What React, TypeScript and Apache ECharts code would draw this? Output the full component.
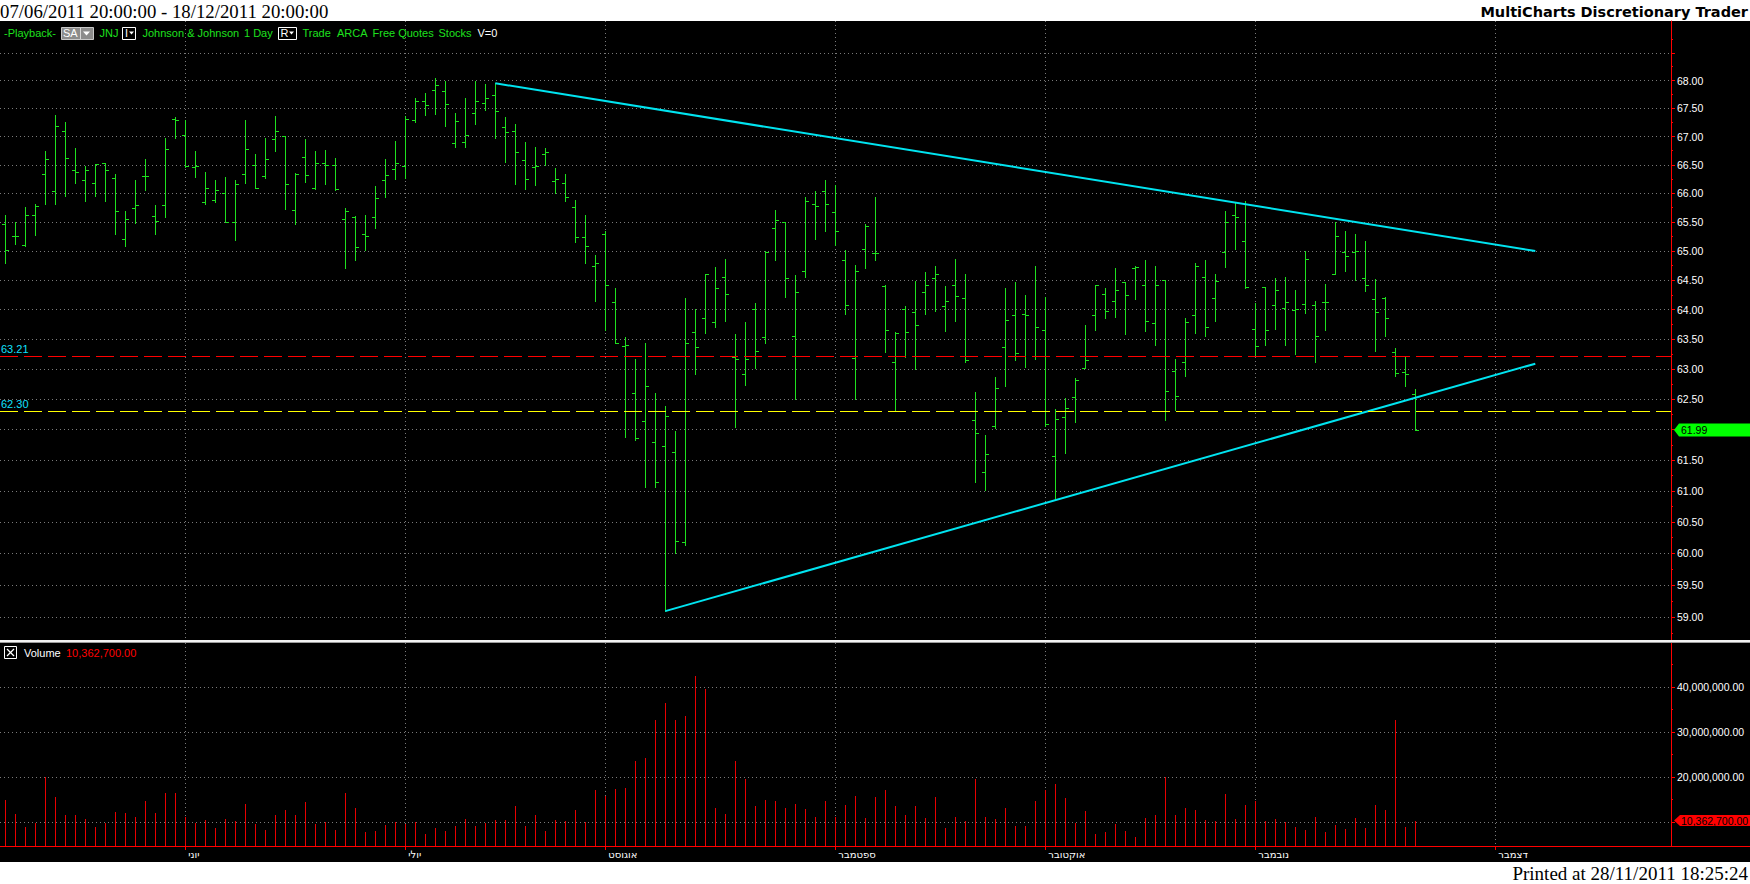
import React, { useEffect, useRef } from 'react';
import * as echarts from 'echarts';

// ---- Daily OHLC of JNJ (USD), trading days 2011-05-05 .. 2011-11-23 ----
const opens = [65.47,65.26,65.11,65.62,66.33,66.04,67.10,66.41,66.24,66.18,
66.54,66.26,65.21,65.74,66.30,65.60,65.79,67.31,67.02,66.46,
65.84,65.88,66.01,65.50,66.34,66.50,66.31,66.96,67.01,65.71,
66.63,66.09,66.54,66.50,65.55,65.59,65.29,65.59,66.24,66.43,
66.48,67.30,67.64,67.83,67.81,66.89,66.90,67.41,67.59,67.74,
67.17,67.09,66.59,66.47,66.69,66.22,66.18,65.76,65.24,64.74,
65.30,64.12,63.38,62.61,62.14,61.80,61.73,61.63,60.18,63.62,
63.86,63.79,64.56,63.20,62.92,64.01,63.54,65.40,65.50,63.56,
64.65,65.82,66.04,65.67,64.84,63.18,65.04,64.96,64.40,63.12,
64.01,63.96,64.29,64.54,64.06,64.42,64.20,62.16,61.31,62.05,
63.37,63.90,63.92,63.22,63.65,61.56,62.21,62.53,63.02,63.90,
64.26,64.14,64.47,64.71,64.41,63.78,64.51,62.96,63.11,63.90,
64.56,64.20,64.99,65.63,65.18,63.68,64.39,64.07,64.03,63.99,
64.09,64.08,64.13,64.61,64.98,64.98,64.53,64.18,64.20,63.29,
62.95,62.59];
const highs = [65.62,65.50,65.76,65.81,66.74,67.39,67.26,66.80,66.48,66.52,
66.54,66.34,65.69,66.24,66.61,65.80,66.97,67.34,67.30,66.75,
66.38,66.24,66.29,66.24,67.30,66.69,66.97,67.37,67.01,66.35,
66.96,66.74,66.76,66.62,65.74,65.61,65.62,66.13,66.61,66.92,
67.37,67.68,67.77,68.05,67.99,67.42,67.69,67.99,67.94,67.95,
67.34,67.22,66.90,66.81,66.80,66.45,66.33,65.88,65.62,64.93,
65.34,64.36,63.54,63.17,63.43,62.60,62.39,61.98,64.20,64.01,
64.61,64.72,64.86,63.59,63.79,64.11,65.00,65.71,65.50,64.59,
65.94,66.04,66.24,66.15,65.02,64.76,65.47,65.94,64.41,63.62,
64.06,64.48,64.64,64.74,64.40,64.86,64.60,62.62,61.91,62.87,
64.36,64.47,64.25,64.74,64.21,62.33,62.52,62.85,63.74,64.42,
64.36,64.71,64.47,64.74,64.84,64.74,64.51,63.16,63.86,64.79,
64.84,64.60,65.69,65.84,65.86,64.11,64.39,64.53,64.55,64.34,
65.00,64.14,64.43,65.50,65.35,65.30,65.17,64.52,64.21,63.35,
63.20,62.67];
const lows = [64.80,65.12,65.08,65.28,65.81,65.81,65.95,66.18,65.86,65.95,
65.86,65.29,65.08,65.49,66.06,65.29,65.59,66.98,66.47,66.28,
65.81,65.84,65.50,65.19,66.18,66.09,66.27,66.75,65.72,65.47,
66.20,66.08,66.16,66.06,64.71,64.84,65.01,65.39,65.93,66.25,
66.26,67.25,67.38,67.40,67.18,66.82,66.82,67.22,67.47,66.98,
66.55,66.16,66.07,66.14,66.49,66.01,65.87,65.15,64.79,64.14,
63.66,63.43,61.87,61.82,61.06,61.06,59.09,60.01,60.14,62.91,
63.61,63.70,63.80,62.04,62.74,63.01,63.43,64.84,64.21,62.51,
64.56,65.20,65.34,65.11,63.92,62.51,64.70,64.84,63.29,62.32,
63.20,63.00,63.92,63.97,63.63,63.80,63.11,61.15,61.01,62.02,
62.71,63.15,63.03,63.17,62.05,60.86,61.61,62.12,63.02,63.65,
63.85,63.87,63.58,64.18,63.63,63.41,62.16,62.32,62.89,63.60,
63.55,63.80,64.72,65.03,64.37,63.21,63.41,63.68,63.41,63.25,
63.95,63.11,63.66,64.61,64.66,64.50,64.31,63.30,63.56,62.89,
62.71,61.99];
const closes = [65.01,65.26,65.63,65.77,66.60,67.19,66.62,66.38,66.41,66.52,
66.40,65.70,65.56,65.80,66.30,65.52,66.78,67.29,66.48,66.48,
66.10,66.06,65.50,66.16,66.78,66.09,66.61,67.09,66.17,66.34,
66.32,66.53,66.50,66.07,65.69,65.07,65.25,65.92,66.32,66.53,
67.31,67.64,67.56,67.92,67.58,67.27,67.02,67.64,67.68,67.45,
67.08,66.72,66.25,66.48,66.73,66.25,65.94,65.24,65.09,64.79,
64.41,63.43,63.41,61.86,62.71,61.14,62.22,60.20,63.44,63.37,
64.60,64.36,64.27,63.17,63.16,63.30,64.98,65.53,64.54,64.30,
65.86,65.77,65.81,65.34,64.08,64.65,65.43,64.96,63.66,63.60,
63.62,63.74,64.41,64.60,64.14,64.23,63.15,61.95,61.60,62.69,
63.82,63.27,63.90,63.70,62.09,62.18,62.36,62.82,63.15,64.42,
63.98,64.33,64.25,64.72,63.80,64.42,62.64,62.55,63.79,64.75,
63.70,64.49,65.50,65.59,64.39,63.38,63.66,64.34,64.12,64.01,
64.86,63.55,64.13,65.25,64.92,65.00,64.41,63.96,63.86,62.94,
62.92,61.99];
// Volume in millions of shares
const volumesM = [14.9,11.8,9.0,9.8,20.1,15.6,11.7,11.7,10.8,9.0,
9.8,12.2,12.0,11.1,14.8,12.0,16.5,16.5,11.1,9.8,
10.4,8.7,10.7,10.2,14.1,9.6,8.2,11.5,12.8,11.7,
14.4,9.6,10.0,8.3,16.4,13.2,7.8,8.0,9.3,10.0,
9.6,10.0,7.3,8.7,8.0,9.1,10.7,9.1,9.8,10.4,
10.4,13.7,9.1,11.5,8.0,10.4,10.2,12.8,10.0,17.1,
15.9,17.3,17.7,23.5,24.2,32.6,36.4,32.8,33.5,42.4,
39.6,13.1,11.8,23.5,19.5,13.7,15.0,14.6,13.2,14.1,
12.9,11.2,14.6,11.2,13.9,15.9,10.9,15.7,17.1,13.5,
11.7,13.5,10.9,15.6,8.8,11.1,10.2,19.5,11.1,10.7,
13.2,9.1,9.1,14.6,17.1,18.4,15.4,9.8,12.4,7.3,
7.8,9.6,8.0,6.8,10.9,11.7,20.1,11.7,13.2,12.6,
10.4,10.2,16.2,10.7,13.9,14.8,10.2,10.7,10.0,8.9,
8.2,11.2,7.8,9.3,8.4,10.9,8.7,13.9,12.8,32.8,
8.9,10.3627];

// ---- Calendar ----
const firstDate = [2011, 5, 5];
const lastTradingDate = [2011, 11, 23];
const lastCalendarDate = [2011, 12, 18];
const holidays = ['2011-05-30', '2011-07-04', '2011-09-05'];
const monthNames: Record<number, string> = {
  6: 'יוני', 7: 'יולי', 8: 'אוגוסט', 9: 'ספטמבר', 10: 'אוקטובר', 11: 'נובמבר', 12: 'דצמבר',
};

// ---- Axis ticks ----
const priceTicks = [59, 59.5, 60, 60.5, 61, 61.5, 62, 62.5, 63, 63.5, 64, 64.5, 65, 65.5, 66, 66.5, 67, 67.5, 68, 68.5];
// 62.00 is hidden behind the last-price marker, 68.50 is not labelled
const priceLabels = [59, 59.5, 60, 60.5, 61, 61.5, 62.5, 63, 63.5, 64, 64.5, 65, 65.5, 66, 66.5, 67, 67.5, 68];
const priceMinorTicks = [58.75, 59.25, 59.75, 60.25, 60.75, 61.25, 61.75, 62.25, 62.75, 63.25, 63.75, 64.25, 64.75, 65.25, 65.75, 66.25, 66.75, 67.25, 67.75, 68.25, 68.75];
const priceAxisMin = 58.64;
const priceAxisMax = 69.08;
const volumeTicks = [10e6, 20e6, 30e6, 40e6];
// 10,000,000.00 is hidden behind the last-volume marker
const volumeLabels = [20e6, 30e6, 40e6];
const volumeMinorTicks = [15e6, 25e6, 35e6, 45e6];
const volumeAxisMin = 4.71e6;
const volumeAxisMax = 49.82e6;

// ---- Drawings ----
const levels = [
  { value: 63.21, color: '#ff0000' },
  { value: 62.30, color: '#ffff00' },
];
const trendUpper = [[49, 67.95], [153, 65.0]];
const trendLower = [[66, 59.09], [153, 63.09]];

function buildDates(): string[] {
  const out: string[] = [];
  const d = new Date(Date.UTC(firstDate[0], firstDate[1] - 1, firstDate[2]));
  const endTrade = Date.UTC(lastTradingDate[0], lastTradingDate[1] - 1, lastTradingDate[2]);
  const endCal = Date.UTC(lastCalendarDate[0], lastCalendarDate[1] - 1, lastCalendarDate[2]);
  while (d.getTime() <= endCal) {
    const iso = d.toISOString().slice(0, 10);
    const wd = d.getUTCDay();
    if (d.getTime() > endTrade) out.push(iso);
    else if (wd !== 0 && wd !== 6 && holidays.indexOf(iso) < 0) out.push(iso);
    d.setUTCDate(d.getUTCDate() + 1);
  }
  return out;
}

const GREEN = '#1ee01e';
const RED = '#ff0000';
const VOL_RED = '#e80000';
const CYAN = '#00e4f0';
const LABEL_CYAN = '#10e0ff';
const GRID = { color: '#7a7a7a', width: 1, type: [1, 3] as any };
const AXIS_FONT = { color: '#ffffff', fontSize: 10.5, fontFamily: 'Liberation Sans' };
const HDR_FONT = '11px "Liberation Sans"';

export default function App() {
  const ref = useRef<HTMLDivElement>(null);

  useEffect(() => {
    document.body.style.margin = '0';
    const el = ref.current!;
    const chart = echarts.init(el, undefined, { renderer: 'svg' });
    const ln = Math.log;
    const dates = buildDates();
    const monthStarts: number[] = [];
    for (let i = 1; i < dates.length; i++) {
      if (dates[i].slice(5, 7) !== dates[i - 1].slice(5, 7)) monthStarts.push(i);
    }
    const xMin = -0.53;
    const xMax = dates.length - 0.43;

    const ohlcData = opens.map((o, i) => [i, ln(o), ln(highs[i]), ln(lows[i]), ln(closes[i])]);
    const volData = volumesM.map((v, i) => [i, v * 1e6]);
    const fmtVol = (v: number) => v.toLocaleString('en-US', { minimumFractionDigits: 2, maximumFractionDigits: 2 });

    const yCommon = (min: number, max: number) => ({ type: 'value', position: 'right', min, max });

    const option: any = {
      animation: false,
      backgroundColor: 'transparent',
      grid: [
        { left: 0, top: 21, width: 1671, height: 619, outerBoundsMode: 'none', containLabel: false },
        { left: 0, top: 643, width: 1671, height: 203, outerBoundsMode: 'none', containLabel: false },
      ],
      xAxis: [
        {
          gridIndex: 0, type: 'value', min: xMin, max: xMax,
          axisLine: { show: false, onZero: false },
          axisTick: { show: false, customValues: monthStarts },
          axisLabel: { show: false },
          splitLine: { show: true, lineStyle: GRID },
        },
        {
          gridIndex: 1, type: 'value', min: xMin, max: xMax, position: 'bottom',
          axisLine: { show: true, onZero: false, lineStyle: { color: RED, width: 1 } },
          axisTick: { show: true, customValues: monthStarts, length: 4, inside: false, lineStyle: { color: RED } },
          axisLabel: {
            show: true, customValues: monthStarts,
            formatter: (v: number) => monthNames[+dates[Math.round(v)].slice(5, 7)] || '',
            align: 'left', padding: [0, 0, 0, 3], margin: 3,
            color: '#ffffff', fontSize: 10, fontFamily: 'DejaVu Sans',
          },
          splitLine: { show: true, lineStyle: GRID },
        },
      ],
      yAxis: [
        {
          gridIndex: 0, ...yCommon(ln(priceAxisMin), ln(priceAxisMax)),
          axisLine: { show: true, onZero: false, lineStyle: { color: RED, width: 1 } },
          axisTick: { show: true, customValues: priceTicks.map(ln), length: 4, lineStyle: { color: RED } },
          axisLabel: { show: true, customValues: priceLabels.map(ln), formatter: (v: number) => Math.exp(v).toFixed(2), margin: 6, ...AXIS_FONT },
          splitLine: { show: true, lineStyle: GRID },
        },
        {
          gridIndex: 0, ...yCommon(ln(priceAxisMin), ln(priceAxisMax)),
          axisLine: { show: false, onZero: false },
          axisTick: { show: true, customValues: priceMinorTicks.map(ln), length: 2, lineStyle: { color: RED } },
          axisLabel: { show: false },
          splitLine: { show: false },
        },
        {
          gridIndex: 1, ...yCommon(volumeAxisMin, volumeAxisMax),
          axisLine: { show: true, onZero: false, lineStyle: { color: RED, width: 1 } },
          axisTick: { show: true, customValues: volumeTicks, length: 4, lineStyle: { color: RED } },
          axisLabel: { show: true, customValues: volumeLabels, formatter: (v: number) => fmtVol(v), margin: 6, ...AXIS_FONT },
          splitLine: { show: true, lineStyle: GRID },
        },
        {
          gridIndex: 1, ...yCommon(volumeAxisMin, volumeAxisMax),
          axisLine: { show: false, onZero: false },
          axisTick: { show: true, customValues: volumeMinorTicks, length: 2, lineStyle: { color: RED } },
          axisLabel: { show: false },
          splitLine: { show: false },
        },
      ],
      series: [
        {
          type: 'custom', name: 'JNJ', xAxisIndex: 0, yAxisIndex: 0, silent: true,
          data: ohlcData, encode: { x: 0, y: [1, 2, 3, 4] },
          renderItem: (params: any, api: any) => {
            const x = api.value(0);
            const o = api.coord([x, api.value(1)]);
            const h = api.coord([x, api.value(2)]);
            const l = api.coord([x, api.value(3)]);
            const c = api.coord([x, api.value(4)]);
            const px = Math.round(h[0]) + 0.5;
            const sy = (v: number) => Math.round(v) + 0.5;
            const style = { stroke: GREEN, lineWidth: 1 };
            return {
              type: 'group',
              children: [
                { type: 'line', shape: { x1: px, y1: Math.round(h[1]), x2: px, y2: Math.round(l[1]) + 1 }, style },
                { type: 'line', shape: { x1: px - 3.5, y1: sy(o[1]), x2: px, y2: sy(o[1]) }, style },
                { type: 'line', shape: { x1: px, y1: sy(c[1]), x2: px + 3.5, y2: sy(c[1]) }, style },
              ],
            };
          },
        },
        {
          type: 'custom', name: 'Volume', xAxisIndex: 1, yAxisIndex: 2, silent: true,
          data: volData, encode: { x: 0, y: 1 },
          renderItem: (params: any, api: any) => {
            const p = api.coord([api.value(0), api.value(1)]);
            const bottom = params.coordSys.y + params.coordSys.height;
            const px = Math.round(p[0]) + 0.5;
            return { type: 'line', shape: { x1: px, y1: Math.round(p[1]), x2: px, y2: bottom }, style: { stroke: VOL_RED, lineWidth: 1 } };
          },
        },
        {
          type: 'line', xAxisIndex: 0, yAxisIndex: 0, silent: true,
          data: trendUpper.map(([i, p]) => [i, ln(p)]),
          symbol: 'none', showSymbol: false,
          lineStyle: { color: CYAN, width: 2 },
          markLine: {
            silent: true, symbol: ['none', 'none'], animation: false, precision: 8,
            data: levels.map((lv) => ({
              yAxis: ln(lv.value),
              lineStyle: { color: lv.color, width: 1, type: [18, 6] },
              label: {
                show: true, position: 'insideStartTop', formatter: lv.value.toFixed(2),
                color: LABEL_CYAN, fontSize: 11, fontFamily: 'Liberation Sans', distance: [1, 2],
              },
            })),
          },
        },
        {
          type: 'line', xAxisIndex: 0, yAxisIndex: 0, silent: true,
          data: trendLower.map(([i, p]) => [i, ln(p)]),
          symbol: 'none', showSymbol: false,
          lineStyle: { color: CYAN, width: 2 },
        },
      ],
    };
    chart.setOption(option);

    const last = closes.length - 1;
    const cp = chart.convertToPixel({ seriesIndex: 0 } as any, [last, ln(closes[last])]) as number[];
    const vp = chart.convertToPixel({ seriesIndex: 1 } as any, [last, volumesM[last] * 1e6]) as number[];
    const cy = cp[1];
    const vy = vp[1];
    const lastVolText = fmtVol(volumesM[last] * 1e6);

    const txt = (text: string, x: number, y: number, fill: string, font: string, align = 'left') => ({
      type: 'text', x, y, z: 50, silent: true,
      style: { text, fill, font, align, verticalAlign: 'middle' },
    });
    const hy = 33;
    const graphic: any[] = [
      txt('07/06/2011 20:00:00 - 18/12/2011 20:00:00', 0, 11.5, '#000000', '18.8px "Liberation Serif"'),
      txt('MultiCharts Discretionary Trader', 1748, 11.5, '#000000', 'bold 14.5px "DejaVu Sans"', 'right'),
      txt('Printed at 28/11/2011 18:25:24', 1748, 873, '#000000', '19px "Liberation Serif"', 'right'),
      // header row
      txt('-Playback-', 4, hy, GREEN, HDR_FONT),
      { type: 'rect', z: 50, silent: true, shape: { x: 61.5, y: 27.5, width: 32, height: 12 }, style: { fill: '#8c8c8c', stroke: '#c8c8c8', lineWidth: 1 } },
      txt('SA', 63, hy, '#ffffff', HDR_FONT),
      { type: 'line', z: 51, silent: true, shape: { x1: 80.5, y1: 28, x2: 80.5, y2: 39 }, style: { stroke: '#d8d8d8', lineWidth: 1 } },
      { type: 'polygon', z: 51, silent: true, shape: { points: [[83, 31.5], [90, 31.5], [86.5, 35.5]] }, style: { fill: '#ffffff' } },
      txt('JNJ', 99.5, hy, GREEN, HDR_FONT),
      { type: 'rect', z: 50, silent: true, shape: { x: 122.5, y: 27.5, width: 13, height: 12 }, style: { fill: '#000', stroke: '#ffffff', lineWidth: 1 } },
      txt('I', 125, hy, '#ffffff', HDR_FONT),
      { type: 'polygon', z: 51, silent: true, shape: { points: [[129, 31.5], [134, 31.5], [131.5, 34.5]] }, style: { fill: '#ffffff' } },
      txt('Johnson & Johnson', 142.5, hy, GREEN, HDR_FONT),
      txt('1 Day', 244, hy, GREEN, HDR_FONT),
      { type: 'rect', z: 50, silent: true, shape: { x: 278.5, y: 27.5, width: 18, height: 12 }, style: { fill: '#000', stroke: '#ffffff', lineWidth: 1 } },
      txt('R', 280.5, hy, '#ffffff', HDR_FONT),
      { type: 'polygon', z: 51, silent: true, shape: { points: [[289, 31.5], [294, 31.5], [291.5, 34.5]] }, style: { fill: '#ffffff' } },
      txt('Trade', 302.5, hy, GREEN, HDR_FONT),
      txt('ARCA', 337, hy, GREEN, HDR_FONT),
      txt('Free Quotes', 372.5, hy, GREEN, HDR_FONT),
      txt('Stocks', 438.5, hy, GREEN, HDR_FONT),
      txt('V=0', 477.5, hy, '#ffffff', HDR_FONT),
      // panel separator
      { type: 'rect', z: 60, silent: true, shape: { x: 0, y: 640, width: 1750, height: 3 }, style: { fill: '#f2f2f2' } },
      { type: 'line', z: 61, silent: true, shape: { x1: 0, y1: 642.5, x2: 1750, y2: 642.5 }, style: { stroke: '#9c9c9c', lineWidth: 1 } },
      // volume header
      { type: 'rect', z: 50, silent: true, shape: { x: 4.5, y: 646.5, width: 12, height: 12 }, style: { fill: 'none', stroke: '#ffffff', lineWidth: 1 } },
      { type: 'line', z: 50, silent: true, shape: { x1: 7, y1: 649, x2: 14, y2: 656 }, style: { stroke: '#ffffff', lineWidth: 1.2 } },
      { type: 'line', z: 50, silent: true, shape: { x1: 14, y1: 649, x2: 7, y2: 656 }, style: { stroke: '#ffffff', lineWidth: 1.2 } },
      txt('Volume', 24, 653, '#ffffff', HDR_FONT),
      txt(lastVolText, 66, 653, '#ff0000', HDR_FONT),
      // x-axis line extension under the price scale
      { type: 'line', z: 50, silent: true, shape: { x1: 1671, y1: 846.5, x2: 1750, y2: 846.5 }, style: { stroke: RED, lineWidth: 1 } },
      // last price marker
      { type: 'polygon', z: 100, silent: true, shape: { points: [[1674, cy], [1679, cy - 6.5], [1750, cy - 6.5], [1750, cy + 6.5], [1679, cy + 6.5]] }, style: { fill: '#00ff00' } },
      { type: 'text', z: 101, silent: true, x: 1681, y: cy, style: { text: closes[last].toFixed(2), fill: '#000000', font: '10.5px "Liberation Sans"', verticalAlign: 'middle' } },
      // last volume marker
      { type: 'polygon', z: 100, silent: true, shape: { points: [[1674, vy], [1680, vy - 5.5], [1750, vy - 5.5], [1750, vy + 5.5], [1680, vy + 5.5]] }, style: { fill: '#ff0000' } },
      { type: 'text', z: 101, silent: true, x: 1681, y: vy, style: { text: lastVolText, fill: '#000000', font: '10.5px "Liberation Sans"', verticalAlign: 'middle' } },
    ];
    chart.setOption({ graphic });

    return () => chart.dispose();
  }, []);

  return (
    <div style={{ position: 'relative', width: 1750, height: 884, background: '#ffffff', overflow: 'hidden' }}>
      <div style={{ position: 'absolute', left: 0, top: 21, width: 1750, height: 841, background: '#000000' }} />
      <div ref={ref} style={{ position: 'absolute', left: 0, top: 0, width: 1750, height: 884 }} />
    </div>
  );
}
